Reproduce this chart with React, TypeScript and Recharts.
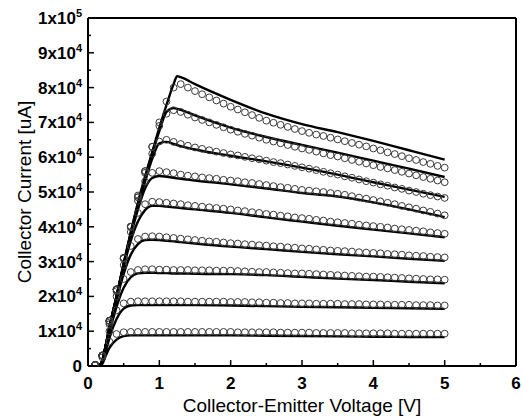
import React from 'react';
import { ComposedChart, Line, Scatter, XAxis, YAxis, ReferenceLine } from 'recharts';

// collector current values are in units of 1x10^4 uA
const fitVoltage = [0.15, 0.2, 0.25, 0.3, 0.4, 0.5, 0.6, 0.7, 0.8, 0.9, 1.0, 1.1, 1.2, 1.25, 1.3, 1.5, 2, 2.5, 3, 3.5, 4, 4.5, 5];

const fit1 = [0, 0.15, 0.6, 1.1, 2.0, 2.95, 3.85, 4.7, 5.45, 6.15, 6.85, 7.5, 8.1, 8.33, 8.3, 8.1, 7.65, 7.25, 6.95, 6.72, 6.47, 6.2, 5.93];
const fit2 = [0, 0.15, 0.6, 1.1, 2.0, 2.93, 3.83, 4.65, 5.4, 6.1, 6.75, 7.3, 7.41, 7.39, 7.36, 7.2, 6.85, 6.58, 6.35, 6.13, 5.9, 5.67, 5.43];
const fit3 = [0, 0.15, 0.6, 1.1, 2.0, 2.92, 3.8, 4.6, 5.3, 5.95, 6.4, 6.44, 6.38, 6.35, 6.32, 6.22, 6.04, 5.88, 5.7, 5.5, 5.28, 5.07, 4.86];
const fit4 = [0, 0.15, 0.6, 1.1, 2.0, 2.9, 3.75, 4.5, 5.1, 5.4, 5.46, 5.44, 5.41, 5.39, 5.38, 5.33, 5.22, 5.1, 4.97, 4.87, 4.7, 4.5, 4.28];
const fit5 = [0, 0.15, 0.6, 1.1, 1.98, 2.85, 3.6, 4.15, 4.48, 4.6, 4.6, 4.58, 4.56, 4.55, 4.54, 4.5, 4.4, 4.27, 4.15, 4.03, 3.92, 3.81, 3.7];
const fit6 = [0, 0.15, 0.58, 1.05, 1.9, 2.65, 3.2, 3.5, 3.62, 3.63, 3.62, 3.6, 3.58, 3.57, 3.56, 3.52, 3.43, 3.36, 3.28, 3.21, 3.15, 3.08, 3.02];
const fit7 = [0, 0.12, 0.5, 0.95, 1.7, 2.25, 2.55, 2.66, 2.68, 2.68, 2.67, 2.67, 2.66, 2.66, 2.66, 2.65, 2.64, 2.61, 2.56, 2.51, 2.47, 2.42, 2.38];
const fit8 = [0, 0.1, 0.42, 0.8, 1.35, 1.65, 1.74, 1.75, 1.75, 1.75, 1.75, 1.75, 1.75, 1.75, 1.75, 1.75, 1.74, 1.72, 1.7, 1.69, 1.67, 1.66, 1.64];
const fit9 = [0, 0.06, 0.3, 0.52, 0.76, 0.86, 0.88, 0.88, 0.88, 0.88, 0.88, 0.88, 0.88, 0.88, 0.88, 0.88, 0.88, 0.87, 0.86, 0.85, 0.84, 0.835, 0.83];

const measVoltage = [
  0.1, 0.2, 0.3, 0.4, 0.5, 0.6, 0.7, 0.8, 0.9, 1.0,
  1.1, 1.2, 1.3, 1.4, 1.5, 1.6, 1.7, 1.8, 1.9, 2.0,
  2.1, 2.2, 2.3, 2.4, 2.5, 2.6, 2.7, 2.8, 2.9, 3.0,
  3.1, 3.2, 3.3, 3.4, 3.5, 3.6, 3.7, 3.8, 3.9, 4.0,
  4.1, 4.2, 4.3, 4.4, 4.5, 4.6, 4.7, 4.8, 4.9, 5.0,
];

const meas1 = [
  0.03, 0.3, 1.3, 2.2, 3.1, 4.0, 4.9, 5.6, 6.3, 7.0,
  7.6, 8.0, 8.1, 8.0, 7.9, 7.81, 7.72, 7.63, 7.54, 7.45,
  7.37, 7.29, 7.21, 7.13, 7.05, 6.99, 6.93, 6.87, 6.81, 6.75,
  6.7, 6.65, 6.61, 6.56, 6.51, 6.46, 6.41, 6.36, 6.31, 6.25,
  6.2, 6.14, 6.09, 6.03, 5.97, 5.92, 5.86, 5.81, 5.75, 5.7,
];
const meas2 = [
  0.03, 0.3, 1.3, 2.2, 3.1, 4.0, 4.85, 5.6, 6.3, 6.9,
  7.25, 7.35, 7.3, 7.22, 7.14, 7.07, 7.0, 6.93, 6.86, 6.79,
  6.73, 6.67, 6.62, 6.56, 6.5, 6.45, 6.4, 6.35, 6.3, 6.25,
  6.21, 6.16, 6.11, 6.06, 6.02, 5.97, 5.92, 5.87, 5.82, 5.77,
  5.72, 5.68, 5.63, 5.58, 5.53, 5.48, 5.43, 5.38, 5.33, 5.28,
];
const meas3 = [
  0.03, 0.3, 1.3, 2.2, 3.1, 4.0, 4.85, 5.55, 6.1, 6.45,
  6.5, 6.44, 6.38, 6.33, 6.28, 6.24, 6.2, 6.16, 6.12, 6.08,
  6.05, 6.01, 5.97, 5.94, 5.9, 5.86, 5.83, 5.79, 5.75, 5.71,
  5.67, 5.63, 5.58, 5.54, 5.5, 5.45, 5.41, 5.36, 5.31, 5.27,
  5.22, 5.18, 5.13, 5.09, 5.04, 5.0, 4.95, 4.91, 4.87, 4.83,
];
const meas4 = [
  0.03, 0.3, 1.3, 2.2, 3.1, 4.0, 4.75, 5.3, 5.55, 5.6,
  5.57, 5.54, 5.5, 5.47, 5.45, 5.42, 5.4, 5.38, 5.35, 5.33,
  5.31, 5.28, 5.26, 5.23, 5.2, 5.17, 5.14, 5.12, 5.09, 5.06,
  5.04, 5.02, 5.0, 4.97, 4.95, 4.92, 4.88, 4.84, 4.81, 4.77,
  4.73, 4.69, 4.65, 4.6, 4.56, 4.52, 4.47, 4.43, 4.38, 4.33,
];
const meas5 = [
  0.03, 0.3, 1.3, 2.2, 3.1, 3.85, 4.4, 4.65, 4.72, 4.71,
  4.69, 4.67, 4.65, 4.62, 4.6, 4.58, 4.56, 4.54, 4.52, 4.5,
  4.47, 4.45, 4.42, 4.4, 4.37, 4.35, 4.32, 4.3, 4.27, 4.25,
  4.23, 4.2, 4.18, 4.15, 4.13, 4.11, 4.09, 4.06, 4.04, 4.02,
  4.0, 3.98, 3.95, 3.93, 3.91, 3.89, 3.87, 3.84, 3.82, 3.8,
];
const meas6 = [
  0.03, 0.3, 1.25, 2.15, 2.9, 3.45, 3.65, 3.72, 3.73, 3.72,
  3.7, 3.68, 3.66, 3.64, 3.62, 3.6, 3.58, 3.57, 3.55, 3.53,
  3.52, 3.5, 3.49, 3.47, 3.46, 3.44, 3.43, 3.41, 3.4, 3.38,
  3.37, 3.35, 3.34, 3.32, 3.31, 3.3, 3.29, 3.27, 3.26, 3.25,
  3.24, 3.22, 3.21, 3.2, 3.18, 3.17, 3.16, 3.14, 3.13, 3.12,
];
const meas7 = [
  0.03, 0.3, 1.2, 2.0, 2.5, 2.7, 2.76, 2.78, 2.78, 2.77,
  2.77, 2.76, 2.76, 2.76, 2.75, 2.75, 2.75, 2.74, 2.74, 2.74,
  2.73, 2.72, 2.71, 2.7, 2.7, 2.69, 2.68, 2.67, 2.66, 2.66,
  2.65, 2.64, 2.63, 2.62, 2.61, 2.6, 2.59, 2.58, 2.57, 2.57,
  2.56, 2.55, 2.54, 2.53, 2.52, 2.51, 2.5, 2.49, 2.49, 2.48,
];
const meas8 = [
  0.03, 0.3, 1.0, 1.6, 1.8, 1.85, 1.86, 1.86, 1.86, 1.86,
  1.86, 1.86, 1.86, 1.85, 1.85, 1.85, 1.85, 1.85, 1.85, 1.84,
  1.84, 1.84, 1.83, 1.83, 1.82, 1.82, 1.81, 1.81, 1.8, 1.8,
  1.8, 1.79, 1.79, 1.79, 1.79, 1.78, 1.78, 1.78, 1.77, 1.77,
  1.77, 1.76, 1.76, 1.76, 1.76, 1.75, 1.75, 1.75, 1.74, 1.74,
];
const meas9 = [
  0.03, 0.25, 0.7, 0.92, 0.97, 0.98, 0.98, 0.98, 0.98, 0.98,
  0.98, 0.98, 0.98, 0.98, 0.98, 0.98, 0.98, 0.98, 0.98, 0.98,
  0.97, 0.97, 0.97, 0.97, 0.97, 0.97, 0.96, 0.96, 0.96, 0.96,
  0.96, 0.95, 0.95, 0.95, 0.95, 0.95, 0.94, 0.94, 0.94, 0.94,
  0.94, 0.94, 0.93, 0.93, 0.93, 0.93, 0.93, 0.93, 0.93, 0.93,
];

const xTicks = [0, 0.5, 1, 1.5, 2, 2.5, 3, 3.5, 4, 4.5, 5, 5.5, 6];
const yTicks = [0, 5000, 10000, 15000, 20000, 25000, 30000, 35000, 40000, 45000, 50000, 55000, 60000, 65000, 70000, 75000, 80000, 85000, 90000, 95000, 100000];

const UNIT = 1e4;
const toRows = (volts: number[], amps: number[]) => volts.map((v, k) => ({ v, i: amps[k] * UNIT }));

const fits = [fit1, fit2, fit3, fit4, fit5, fit6, fit7, fit8, fit9].map((f) => toRows(fitVoltage, f));
const measured = [meas1, meas2, meas3, meas4, meas5, meas6, meas7, meas8, meas9].map((m) => toRows(measVoltage, m));

const FONT = '"Liberation Sans", Arial, sans-serif';

const XTick = (props: any) => {
  const { x, y, payload } = props;
  const major = Number.isInteger(payload.value);
  return (
    <g>
      <line x1={x} y1={y} x2={x} y2={y - (major ? 6 : 3)} stroke="#000" strokeWidth={1.5} />
      {major && (
        <text x={x} y={y + 23} textAnchor="middle" fontFamily={FONT} fontWeight="bold" fontSize={17} fill="#000">
          {payload.value}
        </text>
      )}
    </g>
  );
};

const YTick = (props: any) => {
  const { x, y, payload } = props;
  const v = payload.value;
  const major = v % 10000 === 0;
  let label: React.ReactNode = null;
  if (major) {
    if (v === 0) label = '0';
    else {
      const exp = v >= 100000 ? 5 : 4;
      const mant = v / Math.pow(10, exp);
      label = (
        <>
          {`${mant}x10`}
          <tspan fontSize={11} dy={-7}>{exp}</tspan>
        </>
      );
    }
  }
  return (
    <g>
      <line x1={x} y1={y} x2={x + (major ? 6 : 3)} y2={y} stroke="#000" strokeWidth={1.5} />
      {major && (
        <text x={x - 6} y={y + 6} textAnchor="end" fontFamily={FONT} fontWeight="bold" fontSize={17} fill="#000">
          {label}
        </text>
      )}
    </g>
  );
};

const circle = (p: any) => (
  <circle cx={p.cx} cy={p.cy} r={3.4} fill="none" stroke="#3a3a3a" strokeWidth={1} />
);

export default function App() {
  return (
    <div style={{ position: 'fixed', left: 0, top: 0, width: 523, height: 417, background: '#fff' }}>
      <ComposedChart width={523} height={417} margin={{ top: 18, right: 7, bottom: 0, left: 0 }}>
        <XAxis
          type="number"
          dataKey="v"
          domain={[0, 6]}
          ticks={xTicks}
          interval={0}
          height={51}
          tickSize={0}
          tickMargin={0}
          tick={<XTick />}
          axisLine={{ stroke: '#000', strokeWidth: 2 }}
          allowDataOverflow
          label={{
            value: 'Collector-Emitter Voltage [V]',
            position: 'insideBottom',
            offset: 5,
            style: { fontFamily: FONT, fontSize: 19, fill: '#000' },
          }}
        />
        <YAxis
          type="number"
          domain={[0, 100000]}
          ticks={yTicks}
          interval={0}
          width={88}
          tickSize={0}
          tickMargin={0}
          tick={<YTick />}
          axisLine={{ stroke: '#000', strokeWidth: 2 }}
          allowDataOverflow
          label={{
            content: (p: any) => {
              const vb = p.viewBox;
              const cx = vb.x + 24;
              const cy = vb.y + vb.height / 2;
              return (
                <text x={cx} y={cy} transform={`rotate(-90 ${cx} ${cy})`} textAnchor="middle" dominantBaseline="central" fontFamily={FONT} fontSize={19} fill="#000">
                  Collector Current [uA]
                </text>
              );
            },
          }}
        />
        <ReferenceLine x={6} stroke="#000" strokeWidth={2} />
        <ReferenceLine y={100000} stroke="#000" strokeWidth={2} />
        {measured.map((rows, k) => (
          <Scatter key={`m${k}`} data={rows} dataKey="i" shape={circle} isAnimationActive={false} />
        ))}
        {fits.map((rows, k) => (
          <Line key={`f${k}`} data={rows} dataKey="i" type="monotone" stroke="#000" strokeWidth={2.4} dot={false} isAnimationActive={false} />
        ))}
      </ComposedChart>
    </div>
  );
}
